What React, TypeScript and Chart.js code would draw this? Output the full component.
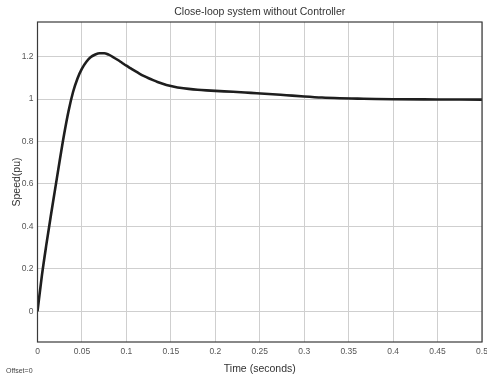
import React, { useEffect, useRef } from "react";
import { Chart, registerables } from "chart.js";

Chart.register(...registerables);

const timeValues = [
  0, 0.005, 0.01, 0.015, 0.02, 0.025, 0.03, 0.035, 0.04, 0.045, 0.05, 0.055,
  0.06, 0.065, 0.07, 0.075, 0.08, 0.085, 0.09, 0.095, 0.1, 0.105, 0.11, 0.115,
  0.12, 0.125, 0.13, 0.135, 0.14, 0.145, 0.15, 0.155, 0.16, 0.17, 0.18, 0.19, 0.2,
  0.22, 0.24, 0.26, 0.28, 0.3, 0.32, 0.34, 0.36, 0.38, 0.4, 0.45, 0.5,
];
const speedValues = [
  0, 0.17, 0.315, 0.45, 0.58, 0.71, 0.835, 0.945, 1.033, 1.097, 1.143, 1.176,
  1.198, 1.21, 1.216, 1.216, 1.209, 1.198, 1.185, 1.171, 1.157, 1.144, 1.131, 1.119,
  1.108, 1.098, 1.089, 1.0805, 1.073, 1.0665, 1.061, 1.0565, 1.053, 1.048, 1.044, 1.041, 1.0385,
  1.034, 1.029, 1.024, 1.018, 1.012, 1.007, 1.004, 1.002, 1.0, 0.999, 0.998, 0.997,
];
const xTicks = [0, 0.05, 0.1, 0.15, 0.2, 0.25, 0.3, 0.35, 0.4, 0.45, 0.5];
const xTickLabels = ["0", "0.05", "0.1", "0.15", "0.2", "0.25", "0.3", "0.35", "0.4", "0.45", "0.5"];
const yTicks = [0, 0.2, 0.4, 0.6, 0.8, 1, 1.2];
const yTickLabels = ["0", "0.2", "0.4", "0.6", "0.8", "1", "1.2"];
const titleText = "Close-loop system without Controller";
const xTitle = "Time (seconds)";
const yTitle = "Speed(pu)";
const offsetText = "Offset=0";

const FONT = "'Liberation Sans', Arial, sans-serif";

const decorPlugin = {
  id: "decor",
  afterDraw(chart: any) {
    const { ctx, chartArea } = chart;
    ctx.save();
    ctx.strokeStyle = "#3a3a3a";
    ctx.lineWidth = 1.2;
    ctx.strokeRect(chartArea.left, chartArea.top, chartArea.right - chartArea.left, chartArea.bottom - chartArea.top);
    ctx.fillStyle = "#333";
    ctx.font = `10.5px ${FONT}`;
    ctx.textAlign = "center";
    ctx.textBaseline = "middle";
    ctx.fillText(titleText, (chartArea.left + chartArea.right) / 2, 12.5);
    ctx.font = `7px ${FONT}`;
    ctx.textAlign = "left";
    ctx.fillStyle = "#444";
    ctx.fillText(offsetText, 6, 371);
    ctx.restore();
  },
};

export default function App() {
  const ref = useRef<HTMLCanvasElement | null>(null);
  useEffect(() => {
    if (!ref.current) return;
    const data = timeValues.map((t, i) => ({ x: t, y: speedValues[i] }));
    const chart = new Chart(ref.current, {
      type: "scatter",
      data: {
        datasets: [
          {
            data,
            showLine: true,
            borderColor: "#1e1e1e",
            borderWidth: 2.6,
            pointRadius: 0,
            cubicInterpolationMode: "monotone",
            fill: false,
          } as any,
        ],
      },
      options: {
        animation: false,
        responsive: true,
        maintainAspectRatio: false,
        layout: { padding: { top: 22, right: 5, left: 0, bottom: 0 } },
        plugins: { legend: { display: false }, tooltip: { enabled: false }, title: { display: false } },
        scales: {
          x: {
            type: "linear",
            min: 0,
            max: 0.5,
            afterBuildTicks: (s: any) => {
              s.ticks = xTicks.map((v) => ({ value: v }));
            },
            afterFit: (s: any) => {
              s.height = 37;
              s.paddingLeft = 0;
              s.paddingRight = 0;
            },
            ticks: {
              autoSkip: false,
              maxRotation: 0,
              padding: 5,
              color: "#555",
              font: { family: FONT, size: 8.5 },
              callback: (v: any) => {
                const i = xTicks.findIndex((t) => Math.abs(t - v) < 1e-9);
                return i >= 0 ? xTickLabels[i] : "";
              },
            },
            grid: { color: "#cfcfcf", lineWidth: 1, drawTicks: false },
            border: { display: false },
            title: {
              display: true,
              text: xTitle,
              color: "#333",
              font: { family: FONT, size: 10.5 },
              padding: { top: 0, bottom: 4 },
            },
          },
          y: {
            type: "linear",
            min: -0.145,
            max: 1.363,
            afterBuildTicks: (s: any) => {
              s.ticks = yTicks.map((v) => ({ value: v }));
            },
            afterFit: (s: any) => {
              s.width = 37.5;
              s.paddingTop = 0;
              s.paddingBottom = 0;
            },
            ticks: {
              autoSkip: false,
              padding: 4,
              color: "#555",
              font: { family: FONT, size: 8.5 },
              callback: (v: any) => {
                const i = yTicks.findIndex((t) => Math.abs(t - v) < 1e-9);
                return i >= 0 ? yTickLabels[i] : "";
              },
            },
            grid: { color: "#cfcfcf", lineWidth: 1, drawTicks: false },
            border: { display: false },
            title: {
              display: true,
              text: yTitle,
              color: "#333",
              font: { family: FONT, size: 10.5 },
              padding: { top: 11, bottom: 0 },
            },
          },
        },
      },
      plugins: [decorPlugin],
    });
    return () => chart.destroy();
  }, []);
  return (
    <div style={{ position: "fixed", left: 0, top: 0, width: 487, height: 379, background: "#fff" }}>
      <canvas ref={ref} />
    </div>
  );
}
